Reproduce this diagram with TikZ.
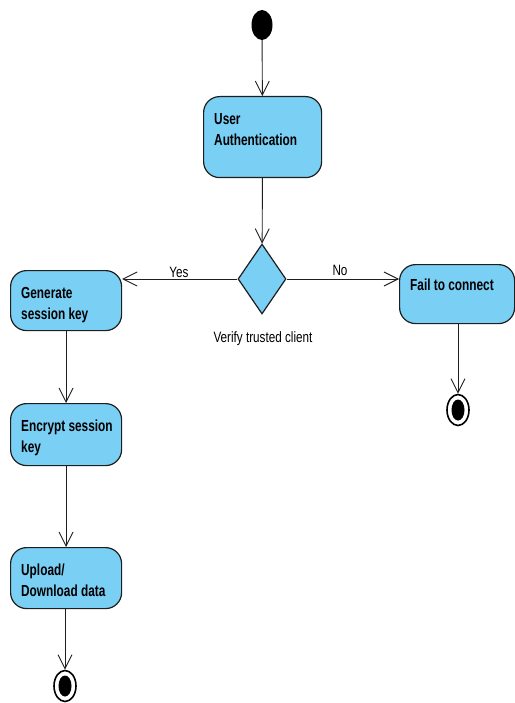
\documentclass[tikz,border=0pt]{standalone}
\usepackage{fontspec}
\setmainfont{Liberation Sans}[FakeStretch=0.78]
\newfontfamily\actfont{Liberation Sans}[FakeStretch=0.74]
\usetikzlibrary{arrows.meta,shapes.geometric}
\definecolor{actblue}{RGB}{122,207,245}
\definecolor{edge}{RGB}{30,30,30}
\tikzset{
  actbox/.style={draw=edge, line width=1.2pt, fill=actblue, rounded corners=16pt, inner sep=0pt, anchor=north west},
  acttext/.style={anchor=base west, inner sep=0pt, font=\actfont\fontsize{16}{21}\selectfont\bfseries},
  lbl/.style={anchor=base, inner sep=0pt, font=\fontsize{15}{18}\selectfont},
  flow/.style={draw=edge, line width=0.9pt, -{Straight Barb[length=14pt, width=14pt, line width=0.9pt]}},
  initnode/.style={ellipse, fill=black, minimum width=21pt, minimum height=30pt, inner sep=0pt},
  finalnode/.style={ellipse, draw=black, line width=1.6pt, fill=white, minimum width=22pt, minimum height=31pt, inner sep=0pt,
    path picture={\fill[black] (path picture bounding box.center) ellipse [x radius=6.5pt, y radius=10.5pt];}},
  decision/.style={diamond, draw=edge, line width=1.2pt, fill=actblue, minimum width=48pt, minimum height=70pt, inner sep=0pt, aspect=0.7}
}
\begin{document}
\begin{tikzpicture}[x=1pt, y=-1pt]
\useasboundingbox (0,0) rectangle (514,703);
% initial
\node[initnode] (init) at (262,25) {};
% user authentication
\node[actbox, minimum width=118pt, minimum height=81pt] (ua) at (203,96) {};
\node[acttext] (uat) at (214,124.5) {\begin{tabular}[t]{@{}l@{}}User\\Authentication\end{tabular}};
% decision
\node[decision] (dec) at (262,279) {};
\node[lbl] (dect) at (263,342.5) {Verify trusted client};
% generate
\node[actbox, minimum width=111pt, minimum height=60pt] (gen) at (10,270) {};
\node[acttext] (gent) at (21,298) {\begin{tabular}[t]{@{}l@{}}Generate\\session key\end{tabular}};
% fail
\node[actbox, minimum width=115pt, minimum height=59pt] (fail) at (399,264) {};
\node[acttext] (failt) at (410,290.5) {Fail to connect};
% encrypt
\node[actbox, minimum width=111pt, minimum height=62pt] (enc) at (10,403) {};
\node[acttext] (enct) at (21,431) {\begin{tabular}[t]{@{}l@{}}Encrypt session\\key\end{tabular}};
% upload
\node[actbox, minimum width=111pt, minimum height=61pt] (up) at (10,547) {};
\node[acttext] (upt) at (21,575) {\begin{tabular}[t]{@{}l@{}}Upload/\\Download data\end{tabular}};
% finals
\node[finalnode] (f1) at (458,410) {};
\node[finalnode] (f2) at (65,686) {};
% connectors
\draw[flow] (init) -- (ua);
\draw[flow] (ua) -- (dec);
\draw[flow] (dec.west) -- (dec.west -| gen.east);
\draw[flow] (dec.east) -- (dec.east -| fail.west);
\draw[flow] (fail.south -| f1) -- (f1);
\draw[flow] (gen) -- (enc);
\draw[flow] (enc) -- (up);
\draw[flow] (up.south -| f2) -- (f2);
% labels
\node[lbl] (yes) at (179,277) {Yes};
\node[lbl] (no) at (340,275) {No};
\end{tikzpicture}
\end{document}
